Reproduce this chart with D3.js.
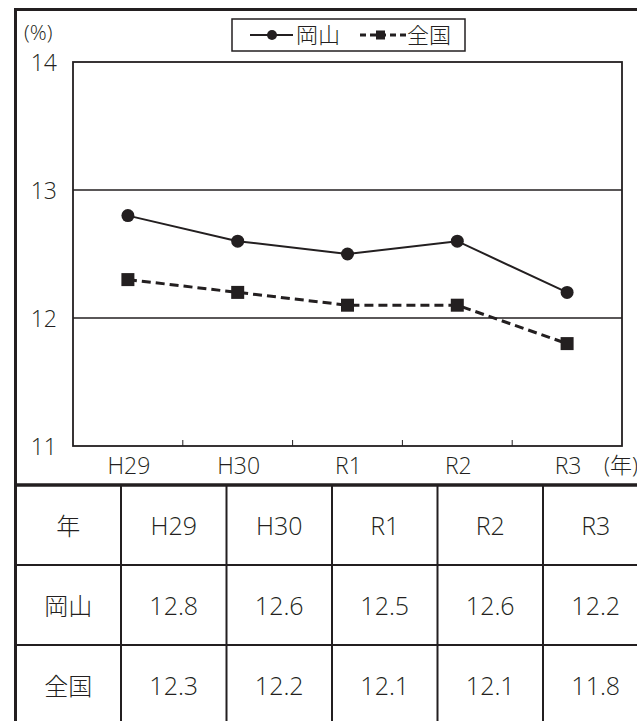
<!DOCTYPE html>
<html><head><meta charset="utf-8">
<script src="https://cdn.jsdelivr.net/npm/d3@7"></script>
<style>
html,body{margin:0;padding:0;background:#fff;}
svg{display:block;}
text{font-family:"Open Sans","Noto Sans CJK JP",sans-serif;font-stretch:92%;font-weight:350;fill:#231f20;}
text.cjk{font-weight:300;}
</style></head>
<body>
<script>
const categories = ["H29","H30","R1","R2","R3"];
const okayama = [12.8,12.6,12.5,12.6,12.2];
const zenkoku = [12.3,12.2,12.1,12.1,11.8];
const yTicks = [11,12,13,14];
const seriesNames = ["岡山","全国"];
const yearLabel = "年";

const W = 637, H = 721, ink = "#231f20";
const svg = d3.select("body").append("svg").attr("width",W).attr("height",H);

const plot = {l:73, r:622, t:62, b:446};
const x = d3.scaleBand().domain(categories).range([plot.l, plot.r]);
const y = d3.scaleLinear().domain([11,14]).range([plot.b, plot.t]);
const cx = c => x(c) + x.bandwidth()/2;

// outer frame
svg.append("line").attr("x1",15.5).attr("x2",15.5).attr("y1",8).attr("y2",H).attr("stroke",ink).attr("stroke-width",3);
svg.append("line").attr("x1",14).attr("x2",W).attr("y1",9.5).attr("y2",9.5).attr("stroke",ink).attr("stroke-width",3);

// gridlines
svg.append("g").selectAll("line").data(yTicks.filter(d=>d>11 && d<14)).join("line")
  .attr("x1",plot.l).attr("x2",plot.r).attr("y1",d=>y(d)).attr("y2",d=>y(d))
  .attr("stroke",ink).attr("stroke-width",1.5);
// plot frame
svg.append("rect").attr("x",plot.l).attr("y",plot.t).attr("width",plot.r-plot.l).attr("height",plot.b-plot.t)
  .attr("fill","none").attr("stroke",ink).attr("stroke-width",1.8);

// x ticks (between bands)
svg.append("g").selectAll("line").data(categories.slice(1)).join("line")
  .attr("x1",d=>x(d)).attr("x2",d=>x(d)).attr("y1",plot.b).attr("y2",plot.b-6)
  .attr("stroke",ink).attr("stroke-width",1);

// y labels
svg.append("g").selectAll("text").data(yTicks).join("text")
  .attr("x",57).attr("y",d=>y(d)+1).attr("dy","0.36em").attr("text-anchor","end")
  .attr("font-size",23).text(d=>d);
svg.append("text").attr("x",24).attr("y",40).attr("font-size",21).text("(%)");

// x labels
svg.append("g").selectAll("text").data(categories).join("text")
  .attr("x",d=>cx(d)+1).attr("y",plot.b+28).attr("text-anchor","middle")
  .attr("font-size",23).text(d=>d);
svg.append("text").attr("class","cjk").attr("x",638).attr("y",plot.b+27).attr("text-anchor","end").attr("font-size",22).text("(年)");

// lines
const line = d3.line().x((d,i)=>cx(categories[i])).y(d=>y(d));
svg.append("path").datum(okayama).attr("d",line).attr("fill","none").attr("stroke",ink).attr("stroke-width",2);
svg.append("path").datum(zenkoku).attr("d",line).attr("fill","none").attr("stroke",ink).attr("stroke-width",3).attr("stroke-dasharray","9,5");
svg.append("g").selectAll("circle").data(okayama).join("circle")
  .attr("cx",(d,i)=>cx(categories[i])).attr("cy",d=>y(d)).attr("r",6.5).attr("fill",ink);
svg.append("g").selectAll("rect").data(zenkoku).join("rect")
  .attr("x",(d,i)=>cx(categories[i])-6.5).attr("y",d=>y(d)-6.5).attr("width",13).attr("height",13).attr("fill",ink);

// legend
const lg = svg.append("g");
const ly = 35;
lg.append("rect").attr("x",232).attr("y",19).attr("width",233).attr("height",32).attr("fill","#fff").attr("stroke",ink).attr("stroke-width",1.5);
lg.append("line").attr("x1",250).attr("x2",293).attr("y1",ly).attr("y2",ly).attr("stroke",ink).attr("stroke-width",2);
lg.append("circle").attr("cx",272).attr("cy",ly).attr("r",5).attr("fill",ink);
lg.append("text").attr("class","cjk").attr("x",296).attr("y",ly).attr("dy","0.36em").attr("font-size",22).text(seriesNames[0]);
lg.append("line").attr("x1",360).attr("x2",407).attr("y1",ly).attr("y2",ly).attr("stroke",ink).attr("stroke-width",3).attr("stroke-dasharray","6,4");
lg.append("rect").attr("x",376).attr("y",ly-4.5).attr("width",9).attr("height",9).attr("fill",ink);
lg.append("text").attr("class","cjk").attr("x",407).attr("y",ly).attr("dy","0.36em").attr("font-size",22).text(seriesNames[1]);

// table
const cols = ["__label", ...categories];
const tx = d3.scaleBand().domain(cols).range([15.5, 15.5+6*105.5]);
const rowsData = [[yearLabel, ...categories],[seriesNames[0], ...okayama.map(d=>d.toFixed(1))],[seriesNames[1], ...zenkoku.map(d=>d.toFixed(1))]];
const ty = d3.scaleBand().domain([0,1,2]).range([485, 485+3*80]);
svg.append("line").attr("x1",14).attr("x2",W).attr("y1",ty(0)).attr("y2",ty(0)).attr("stroke",ink).attr("stroke-width",3.5);
svg.append("g").selectAll("line").data([1,2]).join("line")
  .attr("x1",14).attr("x2",W).attr("y1",d=>ty(d)).attr("y2",d=>ty(d)).attr("stroke",ink).attr("stroke-width",2);
svg.append("g").selectAll("line").data(cols.slice(1)).join("line")
  .attr("x1",d=>tx(d)).attr("x2",d=>tx(d)).attr("y1",ty(0)).attr("y2",H).attr("stroke",ink).attr("stroke-width",2);
rowsData.forEach((row,ri)=>{
  svg.append("g").selectAll("text").data(row).join("text")
    .attr("class",(d,i)=>i===0?"cjk":null)
    .attr("x",(d,i)=>tx(cols[i])+tx.bandwidth()/2).attr("y",ty(ri)+ty.bandwidth()/2+1)
    .attr("dy","0.36em").attr("text-anchor","middle").attr("font-size",(d,i)=>i===0?24:25).text(d=>d);
});
</script>
</body></html>
